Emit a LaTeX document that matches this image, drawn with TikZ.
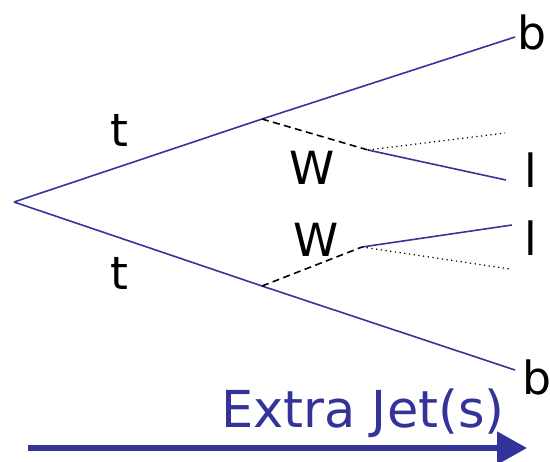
\documentclass[tikz,border=0pt]{standalone}
\usepackage{fontspec}
\setmainfont{DejaVu Sans}
\usetikzlibrary{arrows.meta}
\definecolor{lineblue}{RGB}{51,51,153}
\begin{document}
\begin{tikzpicture}[x=0.02cm, y=-0.02cm,
    quark/.style={lineblue, line width=0.9pt},
    boson/.style={black, dash pattern=on 4pt off 2.5pt, line width=0.9pt},
    nu/.style={black, dotted, line width=0.7pt},
    lbl/.style={font=\fontsize{26}{30}\selectfont, inner sep=0pt}]
    \useasboundingbox (0,0) rectangle (550,461);

    % Vertex de production et vertex W
    \coordinate (o) at (14,202);
    \coordinate (wt) at (262,119);
    \coordinate (wb) at (262,286);
    \coordinate (dt) at (368,150);
    \coordinate (db) at (362,247);

    % Extrémités
    \coordinate (bt) at (515,37);
    \coordinate (bb) at (515,370);
    \coordinate (lt) at (506,180);
    \coordinate (lb) at (512,225);
    \coordinate (nt) at (505,133);
    \coordinate (nb) at (510,269);

    % Quarks top et b
    \draw[quark] (o) -- (wt) -- (bt);
    \draw[quark] (o) -- (wb) -- (bb);

    % Bosons W
    \draw[boson] (wt) -- (dt);
    \draw[boson] (wb) -- (db);

    % Leptons et neutrinos
    \draw[quark] (dt) -- (lt);
    \draw[nu] (dt) -- (nt);
    \draw[quark] (db) -- (lb);
    \draw[nu] (db) -- (nb);

    % Etiquettes
    \node[lbl] (tt) at (119,130) {t};
    \node[lbl] (tb) at (119,273) {t};
    \node[lbl] (Wt) at (312,168) {W};
    \node[lbl] (Wb) at (316,240) {W};
    \node[lbl] (b1) at (532,32) {b};
    \node[lbl] (b2) at (537,377) {b};
    \node[lbl] (l1) at (531,170) {l};
    \node[lbl] (l2) at (531,238) {l};

    % Jets supplémentaires
    \coordinate (ja) at (28,448);
    \coordinate (jb) at (527,448);
    \draw[lineblue, line width=3pt, -{Triangle[length=0.6cm, width=0.64cm]}] (ja) -- (jb);
    \node[lineblue, font=\fontsize{29}{33}\selectfont] (jets) at (363,413) {Extra Jet(s)};
\end{tikzpicture}
\end{document}
